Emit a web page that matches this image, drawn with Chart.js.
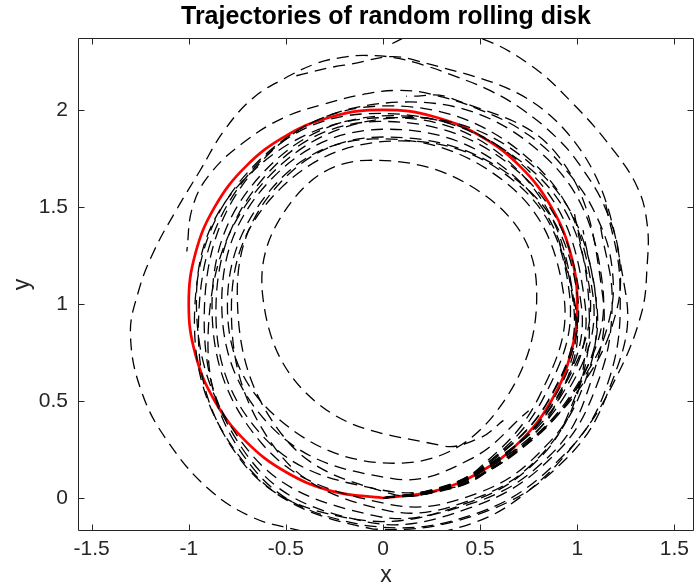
<!DOCTYPE html>
<html>
<head>
<meta charset="utf-8">
<script src="https://cdn.jsdelivr.net/npm/chart.js@4.4.1/dist/chart.umd.min.js"></script>
<style>html,body{margin:0;padding:0;background:#fff;}canvas{display:block;}</style>
</head>
<body>
<canvas id="c" width="695" height="586"></canvas>
<script>
// ---- tick values ----
const xTicks = [-1.5, -1, -0.5, 0, 0.5, 1, 1.5];
const yTicks = [0, 0.5, 1, 1.5, 2];

// ---- reference red circle (x, y) ----
const redCircle = [[0,0],[0.2588,0.0341],[0.5,0.134],[0.7071,0.2929],[0.866,0.5],[0.9659,0.7412],[1,1],[0.9659,1.2588],[0.866,1.5],[0.7071,1.7071],[0.5,1.866],[0.2588,1.9659],[0,2],[-0.2588,1.9659],[-0.5,1.866],[-0.7071,1.7071],[-0.866,1.5],[-0.9659,1.2588],[-1,1],[-0.9659,0.7412],[-0.866,0.5],[-0.7071,0.2929],[-0.5,0.134],[-0.2588,0.0341],[0,0]];

// ---- random rolling disk trajectories (x, y) ----
const traj1 = [[0,0],[0.26,0.03],[0.51,0.12],[0.8,0.33],[1.05,0.62],[1.19,0.92],[1.22,1.2],[1.15,1.48],[1.01,1.72],[0.89,1.86],[0.72,2.0],[0.55,2.1],[0.38,2.17],[0.21,2.23],[0.05,2.27],[-0.1,2.28],[-0.21,2.27],[-0.34,2.24],[-0.51,2.16],[-0.67,2.06],[-0.82,1.89],[-0.94,1.69],[-1.06,1.49],[-1.18,1.27],[-1.26,1.06],[-1.3,0.84],[-1.24,0.54],[-1.1,0.28],[-0.89,0.04],[-0.67,-0.1],[-0.46,-0.16],[-0.2,-0.21],[0.1,-0.2],[0.46,-0.13],[0.74,0.03],[1.01,0.31],[1.2,0.62],[1.33,0.95],[1.36,1.2],[1.36,1.41],[1.31,1.6],[1.18,1.8],[0.98,2.03],[0.76,2.23],[0.5,2.37],[0.25,2.42],[0.02,2.33]];
const traj2 = [[0,0],[0.26,0.04],[0.5,0.145],[0.82,0.35],[1.04,0.63],[1.16,0.9],[1.18,1.18],[1.1,1.45],[0.95,1.68],[0.75,1.87],[0.5,2.0],[0.25,2.08],[0.08,2.1],[-0.1,2.08],[-0.3,2.03],[-0.51,1.96],[-0.72,1.83],[-0.89,1.67],[-0.98,1.5],[-1.01,1.27]];
const traj3 = [[0,0],[0.26,0.028],[0.51,0.118],[0.979,0.55],[1.13,1.1],[0.828,1.765],[0.1,2.04],[-0.656,1.721],[-0.97,0.95],[-0.7,0.165],[-0.05,-0.16],[0.5,-0.08],[0.92,0.18],[1.16,0.55],[1.25,1.05],[0.928,1.905],[0.15,2.26],[-0.2,2.23],[-0.47,2.17]];
const traj4 = [[0,0],[0.26,0.045],[0.49,0.15],[0.805,0.525],[0.93,1.05],[0.643,1.616],[-0.05,1.85],[-0.58,1.586],[-0.8,0.95],[-0.536,0.406],[0.1,0.18],[0.588,0.45],[0.79,1.1],[0.535,1.552],[-0.08,1.74],[-0.462,1.538],[-0.62,1.05],[-0.35,0.499],[0.3,0.27],[0.5,0.31],[0.62,0.4]];
const traj5 = [[0,0],[0.26,0.032],[0.51,0.125],[0.935,0.525],[1.08,1.05],[0.764,1.736],[0,2.02],[-0.65,1.706],[-0.92,0.95],[-0.68,0.194],[-0.1,-0.12],[0.45,-0.05],[0.88,0.22],[1.1,0.58],[1.18,1.0],[1.12,1.4]];
const traj6 = [[0,0],[0.26,0.038],[0.5,0.14],[0.901,0.5],[1.04,1.0],[0.75,1.686],[0.05,1.97],[-0.608,1.686],[-0.88,1.0],[-0.616,0.272],[0.02,-0.03],[0.5,0.03],[0.85,0.28],[1.04,0.6],[1.1,0.95],[1.03,1.38]];
const traj7 = [[0,0],[0.26,0.036],[0.5,0.137],[0.883,0.5],[1.02,1.0],[0.715,1.665],[-0.02,1.94],[-0.614,1.65],[-0.86,0.95],[-0.608,0.307],[0,0.04],[0.45,0.1],[0.78,0.33],[0.95,0.62],[1.0,0.9],[0.9,1.35]];
const traj8 = [[0,0],[0.26,0.042],[0.495,0.148],[0.849,0.5],[0.98,1.0],[0.699,1.636],[0.02,1.9],[-0.581,1.636],[-0.83,1.0],[-0.572,0.364],[0.05,0.1],[0.45,0.2],[0.75,0.45]];
const traj9 = [[0,0],[0.26,0.04],[0.495,0.143],[0.831,0.525],[0.96,1.05],[0.702,1.609],[0.08,1.84],[-0.528,1.594],[-0.78,1.0],[-0.551,0.251],[0,-0.06],[0.48,0.0],[0.84,0.25],[1.02,0.6],[1.06,1.0],[0.98,1.5]];
const traj10 = [[0,0],[0.26,0.03],[0.505,0.122],[0.918,0.55],[1.06,1.1],[0.726,1.722],[-0.08,1.98],[-0.695,1.664],[-0.95,0.9],[-0.73,0.193],[-0.2,-0.1],[0.42,-0.04],[0.86,0.22],[1.07,0.6],[1.13,1.05],[0.901,1.764],[0.35,2.06],[0.12,2.07]];
const traj11 = [[0,0],[0.26,0.03],[0.51,0.12],[0.953,0.5],[1.1,1.0],[0.807,1.679],[0.1,1.96],[-0.607,1.635],[-0.9,0.85],[-0.666,0.15],[-0.1,-0.14],[0.48,-0.08],[0.93,0.22],[1.16,0.6],[1.22,1.1],[1.14,1.55]];
const traj12 = [[0,0],[0.26,0.04],[0.5,0.142],[0.866,0.525],[1.0,1.05],[0.707,1.623],[0,1.86],[-0.53,1.623],[-0.75,1.05],[-0.516,0.322],[0.05,0.02],[0.4,0.06]];
const traj13 = [[0,0],[0.26,0.033],[0.5,0.13],[0.857,0.475],[0.99,0.95],[0.718,1.664],[0.06,1.96],[-0.661,1.693],[-0.96,1.05],[-0.693,0.244],[-0.05,-0.09],[0.45,-0.02],[0.82,0.22],[1.0,0.55],[1.05,0.8]];

const trajectories = [traj1, traj2, traj3, traj4, traj5, traj6, traj7, traj8, traj9, traj10, traj11, traj12, traj13];

const toPts = a => a.map(p => ({ x: p[0], y: p[1] }));

Chart.defaults.font.family = "'Liberation Sans', Arial, Helvetica, sans-serif";

const datasets = trajectories.map((t, i) => ({
  label: 'trajectory ' + (i + 1),
  data: toPts(t),
  showLine: true,
  borderColor: '#000000',
  borderWidth: 1.3,
  borderDash: [12, 7],
  pointRadius: 0,
  tension: 0.4,
  fill: false
}));
datasets.push({
  label: 'circle',
  data: toPts(redCircle),
  showLine: true,
  borderColor: '#ff0000',
  borderWidth: 2.7,
  pointRadius: 0,
  tension: 0.4,
  fill: false
});

const AX = '#262626';

const framePlugin = {
  id: 'frame',
  afterDraw(chart) {
    const { ctx, chartArea: a, scales } = chart;
    const L = Math.round(a.left) + 0.5, R = Math.round(a.right) - 0.5;
    const T = Math.round(a.top) + 0.5, B = Math.round(a.bottom) - 0.5;
    const tl = 6;
    ctx.save();
    ctx.strokeStyle = AX;
    ctx.lineWidth = 1;
    ctx.beginPath();
    ctx.rect(L, T, R - L, B - T);
    xTicks.forEach(v => {
      const px = Math.round(scales.x.getPixelForValue(v)) + 0.5;
      ctx.moveTo(px, B); ctx.lineTo(px, B - tl);
      ctx.moveTo(px, T); ctx.lineTo(px, T + tl);
    });
    yTicks.forEach(v => {
      const py = Math.round(scales.y.getPixelForValue(v)) + 0.5;
      ctx.moveTo(L, py); ctx.lineTo(L + tl, py);
      ctx.moveTo(R, py); ctx.lineTo(R - tl, py);
    });
    ctx.stroke();
    ctx.restore();
  }
};

new Chart(document.getElementById('c'), {
  type: 'scatter',
  data: { datasets },
  options: {
    responsive: false,
    animation: false,
    devicePixelRatio: 1,
    layout: { padding: { left: 0, right: 1, top: 0, bottom: 0 } },
    plugins: {
      legend: { display: false },
      tooltip: { enabled: false },
      title: {
        display: true,
        text: 'Trajectories of random rolling disk',
        fullSize: false,
        color: '#000000',
        font: { size: 25, weight: 'bold' },
        padding: { top: 2, bottom: 6 }
      }
    },
    scales: {
      x: {
        type: 'linear',
        position: 'bottom',
        min: -1.57,
        max: 1.6,
        afterBuildTicks: ax => { ax.ticks = xTicks.map(v => ({ value: v })); },
        afterFit: ax => { ax.height = 55; },
        grid: { display: false, drawTicks: false },
        border: { display: false },
        ticks: { color: AX, font: { size: 21 }, padding: 6, maxRotation: 0, autoSkip: false, callback: v => String(v) },
        title: { display: true, text: 'x', color: AX, font: { size: 23 }, padding: { top: 0, bottom: -3 } }
      },
      y: {
        type: 'linear',
        position: 'left',
        min: -0.17,
        max: 2.37,
        afterBuildTicks: ax => { ax.ticks = yTicks.map(v => ({ value: v })); },
        afterFit: ax => { ax.width = 78; },
        grid: { display: false, drawTicks: false },
        border: { display: false },
        ticks: { color: AX, font: { size: 21 }, padding: 10, autoSkip: false, callback: v => String(v) },
        title: { display: true, text: 'y', color: AX, font: { size: 23 }, padding: { top: 9, bottom: 0 } }
      }
    }
  },
  plugins: [framePlugin]
});
</script>
</body>
</html>
